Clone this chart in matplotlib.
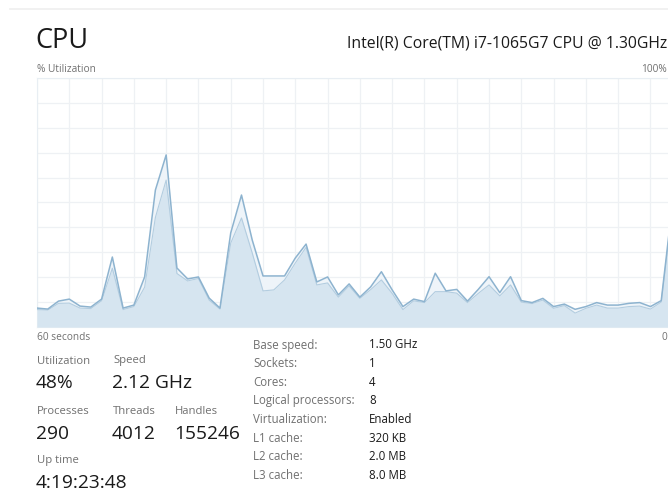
import matplotlib.pyplot as plt
from matplotlib.lines import Line2D
import numpy as np

plt.rcParams['font.family'] = ['Open Sans', 'DejaVu Sans']

# cpu utilisation over the last 60 seconds (%)
total = [7.6, 7.2, 10.4, 11.2, 8.4, 8.0, 11.2, 28.1, 7.6, 8.8,
         20.1, 55.0, 69.1, 23.7, 19.3, 20.1, 11.6, 7.6, 37.8, 53.0,
         34.9, 20.5, 20.5, 20.5, 27.7, 33.3, 18.1, 20.1, 12.9, 17.3,
         12.0, 16.1, 22.2, 14.9, 8.2, 11.2, 10.2, 21.6, 14.5, 15.1,
         10.4, 15.1, 20.2, 13.8, 20.2, 10.6, 9.8, 11.5, 8.2, 9.2,
         7.1, 8.2, 9.8, 8.8, 8.8, 9.5, 9.8, 8.2, 10.6, 48.0]
# kernel time (%)
kernel = [7.0, 6.8, 9.5, 9.6, 7.6, 7.4, 10.5, 23.6, 7.0, 8.2,
          16.0, 44.0, 59.0, 21.5, 18.5, 19.5, 10.8, 7.2, 33.7, 43.8,
          29.7, 14.5, 14.9, 18.9, 25.7, 32.0, 16.9, 17.7, 12.0, 16.5,
          11.5, 15.0, 18.9, 13.5, 7.0, 10.5, 9.8, 14.2, 14.2, 13.6,
          9.8, 13.5, 16.9, 12.5, 16.9, 10.0, 9.4, 10.8, 7.5, 8.6,
          5.6, 7.5, 8.8, 7.6, 7.6, 8.2, 8.4, 7.2, 10.0, 46.0]

left_labels = [('Utilization', '48%'), ('Speed', '2.12 GHz')]
count_labels = [('Processes', '290'), ('Threads', '4012'), ('Handles', '155246')]
info_names = ['Base speed:', 'Sockets:', 'Cores:', 'Logical processors:',
              'Virtualization:', 'L1 cache:', 'L2 cache:', 'L3 cache:']
info_values = ['1.50 GHz', '1', '4', '8', 'Enabled', '320 KB', '2.0 MB', '8.0 MB']

W, H = 668, 499
fig = plt.figure(figsize=(W / 100, H / 100), dpi=100)
fig.patch.set_facecolor('white')


def px(x, y):
    return x / W, 1 - y / H


def txt(x, y, s, size, color, ha='left'):
    fig.text(*px(x, y), s, fontsize=size, color=color, ha=ha, va='center')


# top separator
fig.add_artist(Line2D([10 / W, 1], [1 - 9 / H] * 2, color='#efefef', lw=1.2))

txt(35, 41, 'CPU', 19.5, '#1a1a1a')
txt(667, 44, 'Intel(R) Core(TM) i7-1065G7 CPU @ 1.30GHz', 11.3, '#1a1a1a', ha='right')
txt(37, 70, '% Utilization', 7.3, '#707070')
txt(667, 70, '100%', 7.3, '#707070', ha='right')
txt(37, 338, '60 seconds', 7.3, '#707070')
txt(667, 338, '0', 7.3, '#707070', ha='right')

# graph
ax = fig.add_axes([37 / W, (H - 327) / H, (672 - 37) / W, 249 / H])
x = np.arange(len(total))
ax.fill_between(x, 0, total, color='#eef4f9', lw=0, zorder=2)
ax.plot(x, total, color='#8db3cf', lw=1.1, zorder=4)
ax.fill_between(x, 0, kernel, color='#d6e5f0', lw=0, zorder=3)
ax.plot(x, kernel, color='#b3cde0', lw=0.8, zorder=3)
ax.set_xlim(0, len(total) - 1)
ax.set_ylim(0, 100)
ax.set_xticks(np.arange(0, len(total), 3))
ax.set_yticks(np.arange(0, 101, 10))
ax.tick_params(length=0, labelleft=False, labelbottom=False)
ax.grid(True, color='#eef1f4', lw=0.9, zorder=1)
ax.set_axisbelow(True)
for s in ax.spines.values():
    s.set_color('#e8eef3')
    s.set_linewidth(0.8)

# stats
col_x = [37, 113, 175]
for (lab, val), cx in zip(left_labels, col_x):
    txt(cx, 361, lab, 8.1, '#707070')
    txt(cx - 1, 383, val, 13.8, '#1a1a1a')
for (lab, val), cx in zip(count_labels, col_x):
    txt(cx, 411, lab, 8.1, '#707070')
    txt(cx - 1, 434, val, 13.8, '#1a1a1a')
txt(37, 460, 'Up time', 8.1, '#707070')
txt(36, 483, '4:19:23:48', 13.8, '#1a1a1a')

for i, (name, val) in enumerate(zip(info_names, info_values)):
    y = 345 + i * 18.6
    txt(253, y, name, 8.3, '#707070')
    txt(369, y, val, 8.3, '#1a1a1a')

fig.savefig('out.png', dpi=100)
